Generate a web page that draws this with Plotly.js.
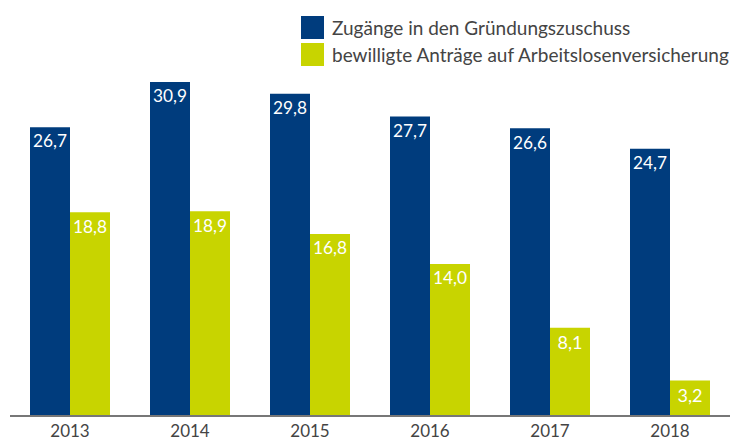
<!DOCTYPE html>
<html><head><meta charset="utf-8">
<script src="https://cdn.plot.ly/plotly-3.0.1.min.js"></script>
<style>html,body{margin:0;padding:0;background:#fff}#c{width:731px;height:442px}</style>
</head><body><div id="c"></div>
<script>
const years = ['2013','2014','2015','2016','2017','2018'];
const seriesNames = ['Zugänge in den Gründungszuschuss','bewilligte Anträge auf Arbeitslosenversicherung'];
const zugaenge = [26.7, 30.9, 29.8, 27.7, 26.6, 24.7];
const antraege = [18.8, 18.9, 16.8, 14.0, 8.1, 3.2];
const colors = ['#003c7d', '#c8d400'];
const FONT = 'Lato, "Noto Sans", sans-serif';

function mk(y, i){
  return {type:'bar', x:years, y:y, name:seriesNames[i], marker:{color:colors[i]},
    texttemplate:'%{y:.1f}', textposition:'inside', insidetextanchor:'end',
    textfont:{color:'#ffffff', size:18, family:FONT}, textangle:0, showlegend:false,
    hoverinfo:'skip'};
}
const data = [mk(zugaenge,0), mk(antraege,1)];

const layout = {
  width:731, height:442, margin:{l:10, r:1, t:40, b:27},
  paper_bgcolor:'#fff', plot_bgcolor:'#fff', separators:',.',
  barmode:'group', bargap:1/3, bargroupgap:0,
  font:{family:FONT, color:'#444'},
  xaxis:{type:'category', range:[-0.5,5.5], showline:true, linecolor:'#777', linewidth:2,
    tickfont:{size:17, color:'#444', family:FONT}, ticks:'', ticklabelstandoff:0,
    showgrid:false, zeroline:false, fixedrange:true},
  yaxis:{range:[0,34.79], visible:false, showgrid:false, zeroline:false, fixedrange:true},
  showlegend:false
};
// legend built from series names, positioned in pixels converted to paper coords
const pw = 720, ph = 375, ml = 10, mt = 40;
const px = x => (x-ml)/pw, py = y => 1-(y-mt)/ph;
layout.shapes = seriesNames.map((n,i)=>({type:'rect', xref:'paper', yref:'paper',
  x0:px(301), x1:px(324), y0:py(16+i*27), y1:py(39+i*27), fillcolor:colors[i], line:{width:0}}));
layout.annotations = seriesNames.map((n,i)=>({xref:'paper', yref:'paper', x:px(330), y:py(27.5+i*27),
  xanchor:'left', yanchor:'middle', text:n, showarrow:false, font:{size:19, color:'#444', family:FONT}}));
Plotly.newPlot('c', data, layout, {displayModeBar:false, staticPlot:true});
</script></body></html>
